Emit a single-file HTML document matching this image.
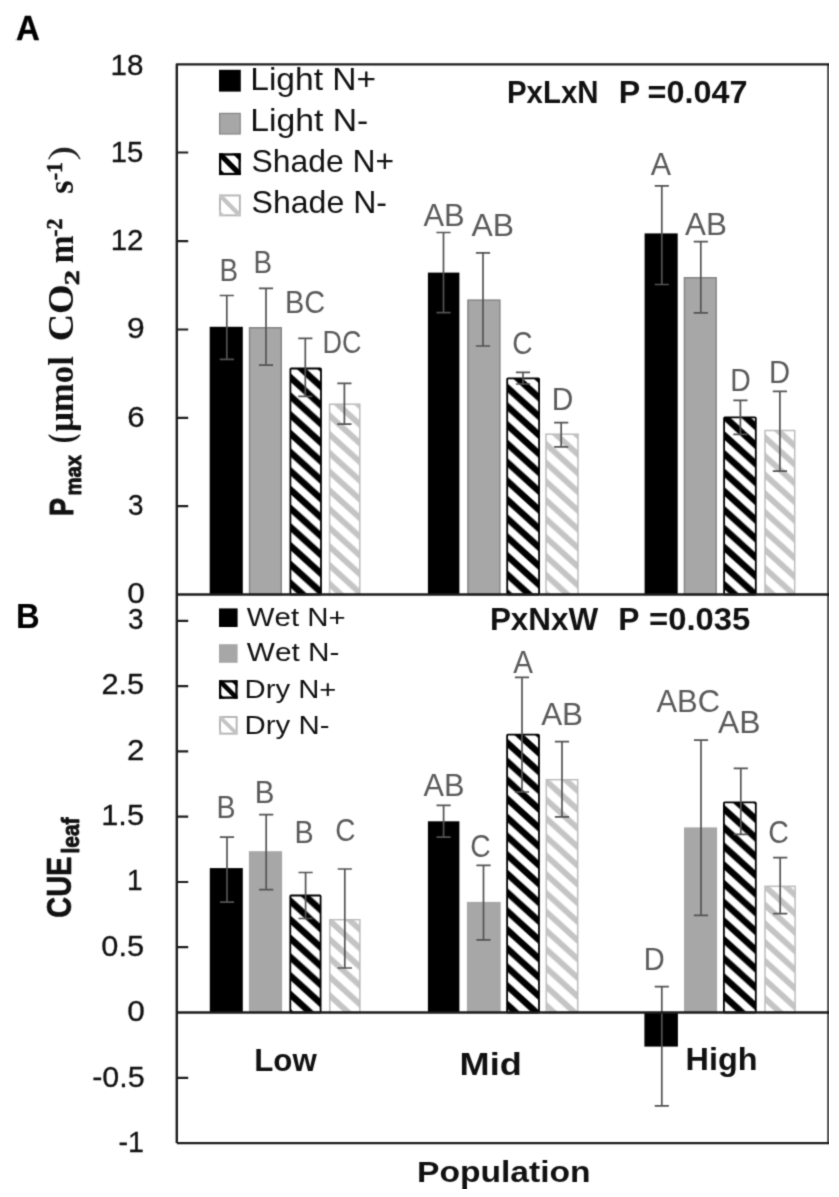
<!DOCTYPE html>
<html><head><meta charset="utf-8"><title>Figure</title><style>html,body{margin:0;padding:0;background:#fff}body{width:839px;height:1197px;overflow:hidden;font-family:"Liberation Sans",sans-serif}</style></head><body>
<svg width="839" height="1197" viewBox="0 0 839 1197" style="display:block;font-kerning:none">
<defs><pattern id="hb" patternUnits="userSpaceOnUse" x="0" y="0" width="20.5721" height="18.7"><rect width="21.572" height="19.7" fill="#fff"/><polygon points="-1,-41.409 21.572,-20.891 21.572,-12.091 -1,-32.609" fill="#000"/><polygon points="-1,-22.709 21.572,-2.191 21.572,6.609 -1,-13.909" fill="#000"/><polygon points="-1,-4.009 21.572,16.509 21.572,25.309 -1,4.791" fill="#000"/><polygon points="-1,14.691 21.572,35.209 21.572,44.009 -1,23.491" fill="#000"/></pattern><pattern id="hg" patternUnits="userSpaceOnUse" x="0" y="0" width="20.5721" height="18.7"><rect width="21.572" height="19.7" fill="#fff"/><polygon points="-1,-38.409 21.572,-17.891 21.572,-9.891 -1,-30.409" fill="#c4c4c4"/><polygon points="-1,-19.709 21.572,0.809 21.572,8.809 -1,-11.709" fill="#c4c4c4"/><polygon points="-1,-1.009 21.572,19.509 21.572,27.509 -1,6.991" fill="#c4c4c4"/><polygon points="-1,17.691 21.572,38.209 21.572,46.209 -1,25.691" fill="#c4c4c4"/></pattern><filter id="bl" x="0" y="0" width="100%" height="100%" color-interpolation-filters="sRGB"><feConvolveMatrix order="3" kernelMatrix="0.02630 0.10957 0.02630 0.10957 0.45654 0.10957 0.02630 0.10957 0.02630" edgeMode="duplicate" preserveAlpha="false"/></filter></defs>
<rect width="839" height="1197" fill="#fff"/>
<g filter="url(#bl)">
<rect x="209.70" y="326.80" width="33.10" height="267.70" fill="#000"/>
<rect x="249.55" y="327.75" width="31.70" height="266.75" fill="#a7a7a7" stroke="#858585" stroke-width="1.5"/>
<rect x="290.40" y="368.50" width="30.60" height="226.00" rx="0.8" fill="url(#hb)" stroke="#000" stroke-width="1.8"/>
<rect x="329.60" y="404.20" width="30.20" height="190.30" fill="url(#hg)" stroke="#bdbdbd" stroke-width="1.5"/>
<rect x="427.90" y="272.60" width="31.50" height="321.90" fill="#000"/>
<rect x="467.95" y="300.15" width="31.90" height="294.35" fill="#a7a7a7" stroke="#858585" stroke-width="1.5"/>
<rect x="507.20" y="378.30" width="31.90" height="216.20" rx="0.8" fill="url(#hb)" stroke="#000" stroke-width="1.8"/>
<rect x="546.00" y="434.20" width="32.00" height="160.30" fill="url(#hg)" stroke="#bdbdbd" stroke-width="1.5"/>
<rect x="644.60" y="233.40" width="33.10" height="361.10" fill="#000"/>
<rect x="684.45" y="277.75" width="31.70" height="316.75" fill="#a7a7a7" stroke="#858585" stroke-width="1.5"/>
<rect x="724.10" y="417.40" width="31.70" height="177.10" rx="0.8" fill="url(#hb)" stroke="#000" stroke-width="1.8"/>
<rect x="765.00" y="430.50" width="29.70" height="164.00" fill="url(#hg)" stroke="#bdbdbd" stroke-width="1.5"/>
<path d="M226.80,295.50V359.40M219.70,295.50h14.2M219.70,359.40h14.2" stroke="#535353" stroke-width="1.7" fill="none"/>
<path d="M266.00,288.30V365.20M258.90,288.30h14.2M258.90,365.20h14.2" stroke="#535353" stroke-width="1.7" fill="none"/>
<path d="M305.30,338.40V396.30M298.20,338.40h14.2M298.20,396.30h14.2" stroke="#535353" stroke-width="1.7" fill="none"/>
<path d="M344.40,383.40V424.20M337.30,383.40h14.2M337.30,424.20h14.2" stroke="#535353" stroke-width="1.7" fill="none"/>
<path d="M443.50,232.50V312.70M436.40,232.50h14.2M436.40,312.70h14.2" stroke="#535353" stroke-width="1.7" fill="none"/>
<path d="M483.00,252.90V346.00M475.90,252.90h14.2M475.90,346.00h14.2" stroke="#535353" stroke-width="1.7" fill="none"/>
<path d="M523.00,372.30V384.00M515.90,372.30h14.2M515.90,384.00h14.2" stroke="#535353" stroke-width="1.7" fill="none"/>
<path d="M561.20,422.60V446.90M554.10,422.60h14.2M554.10,446.90h14.2" stroke="#535353" stroke-width="1.7" fill="none"/>
<path d="M661.80,185.80V284.50M654.70,185.80h14.2M654.70,284.50h14.2" stroke="#535353" stroke-width="1.7" fill="none"/>
<path d="M700.80,241.60V312.80M693.70,241.60h14.2M693.70,312.80h14.2" stroke="#535353" stroke-width="1.7" fill="none"/>
<path d="M740.40,400.40V434.40M733.30,400.40h14.2M733.30,434.40h14.2" stroke="#535353" stroke-width="1.7" fill="none"/>
<path d="M779.90,391.30V471.20M772.80,391.30h14.2M772.80,471.20h14.2" stroke="#535353" stroke-width="1.7" fill="none"/>
<rect x="209.80" y="868.10" width="33.00" height="144.40" fill="#000"/>
<rect x="248.90" y="851.20" width="33.20" height="161.30" fill="#a7a7a7"/>
<rect x="290.30" y="895.50" width="30.30" height="117.00" rx="0.8" fill="url(#hb)" stroke="#000" stroke-width="1.8"/>
<rect x="329.80" y="919.70" width="30.10" height="92.80" fill="url(#hg)" stroke="#bdbdbd" stroke-width="1.5"/>
<rect x="427.90" y="821.30" width="31.50" height="191.20" fill="#000"/>
<rect x="466.90" y="901.90" width="33.80" height="110.60" fill="#a7a7a7"/>
<rect x="507.10" y="734.70" width="31.90" height="277.80" rx="0.8" fill="url(#hb)" stroke="#000" stroke-width="1.8"/>
<rect x="546.30" y="779.70" width="31.40" height="232.80" fill="url(#hg)" stroke="#bdbdbd" stroke-width="1.5"/>
<rect x="644.40" y="1012.50" width="33.50" height="34.10" fill="#000"/>
<rect x="684.00" y="827.40" width="33.10" height="185.10" fill="#a7a7a7"/>
<rect x="723.90" y="802.40" width="31.90" height="210.10" rx="0.8" fill="url(#hb)" stroke="#000" stroke-width="1.8"/>
<rect x="765.00" y="886.30" width="30.10" height="126.20" fill="url(#hg)" stroke="#bdbdbd" stroke-width="1.5"/>
<path d="M227.00,837.10V902.20M219.90,837.10h14.2M219.90,902.20h14.2" stroke="#535353" stroke-width="1.7" fill="none"/>
<path d="M266.20,814.70V889.60M259.10,814.70h14.2M259.10,889.60h14.2" stroke="#535353" stroke-width="1.7" fill="none"/>
<path d="M305.60,872.50V918.50M298.50,872.50h14.2M298.50,918.50h14.2" stroke="#535353" stroke-width="1.7" fill="none"/>
<path d="M344.80,869.00V968.00M337.70,869.00h14.2M337.70,968.00h14.2" stroke="#535353" stroke-width="1.7" fill="none"/>
<path d="M443.60,805.40V837.10M436.50,805.40h14.2M436.50,837.10h14.2" stroke="#535353" stroke-width="1.7" fill="none"/>
<path d="M483.50,865.30V939.90M476.40,865.30h14.2M476.40,939.90h14.2" stroke="#535353" stroke-width="1.7" fill="none"/>
<path d="M522.00,677.30V792.00M514.90,677.30h14.2M514.90,792.00h14.2" stroke="#535353" stroke-width="1.7" fill="none"/>
<path d="M562.00,741.60V816.90M554.90,741.60h14.2M554.90,816.90h14.2" stroke="#535353" stroke-width="1.7" fill="none"/>
<path d="M661.80,986.60V1105.90M654.70,986.60h14.2M654.70,1105.90h14.2" stroke="#535353" stroke-width="1.7" fill="none"/>
<path d="M701.00,740.20V915.40M693.90,740.20h14.2M693.90,915.40h14.2" stroke="#535353" stroke-width="1.7" fill="none"/>
<path d="M740.80,768.40V834.40M733.70,768.40h14.2M733.70,834.40h14.2" stroke="#535353" stroke-width="1.7" fill="none"/>
<path d="M780.20,857.60V913.60M773.10,857.60h14.2M773.10,913.60h14.2" stroke="#535353" stroke-width="1.7" fill="none"/>
<path d="M176.8,1143.1V64.4H828.5V1143.1H176.8M176.8,594.5H828.5M176.8,1012.5H828.5" fill="none" stroke="#1c1c1c" stroke-width="2.4" stroke-linejoin="round"/>
<path d="M176.8,152.5H188.2M176.8,241.2H188.2M176.8,329.5H188.2M176.8,417.8H188.2M176.8,506.1H188.2M176.8,620.85H188.2M176.8,686.1H188.2M176.8,751.4H188.2M176.8,816.7H188.2M176.8,882.0H188.2M176.8,947.2H188.2M176.8,1077.8H188.2" stroke="#1c1c1c" stroke-width="2.2" fill="none"/>
<text transform="translate(110.49,74.70) scale(1.0006,1)" font-family='"Liberation Sans", sans-serif' font-weight="normal" font-size="29.6" fill="#111"  stroke="#111" stroke-width="0.3" stroke-linejoin="round">18</text>
<text transform="translate(110.72,162.30) scale(0.9889,1)" font-family='"Liberation Sans", sans-serif' font-weight="normal" font-size="29.6" fill="#111"  stroke="#111" stroke-width="0.3" stroke-linejoin="round">15</text>
<text transform="translate(110.70,250.00) scale(0.9972,1)" font-family='"Liberation Sans", sans-serif' font-weight="normal" font-size="29.6" fill="#111"  stroke="#111" stroke-width="0.3" stroke-linejoin="round">12</text>
<text transform="translate(126.96,338.00) scale(1.0751,1)" font-family='"Liberation Sans", sans-serif' font-weight="normal" font-size="29.6" fill="#111"  stroke="#111" stroke-width="0.3" stroke-linejoin="round">9</text>
<text transform="translate(127.17,427.40) scale(1.0543,1)" font-family='"Liberation Sans", sans-serif' font-weight="normal" font-size="29.6" fill="#111"  stroke="#111" stroke-width="0.3" stroke-linejoin="round">6</text>
<text transform="translate(127.89,515.10) scale(0.9406,1)" font-family='"Liberation Sans", sans-serif' font-weight="normal" font-size="29.6" fill="#111"  stroke="#111" stroke-width="0.3" stroke-linejoin="round">3</text>
<text transform="translate(127.32,602.50) scale(1.0672,1)" font-family='"Liberation Sans", sans-serif' font-weight="normal" font-size="29.6" fill="#111"  stroke="#111" stroke-width="0.3" stroke-linejoin="round">0</text>
<text transform="translate(127.99,629.30) scale(0.9406,1)" font-family='"Liberation Sans", sans-serif' font-weight="normal" font-size="29.6" fill="#111"  stroke="#111" stroke-width="0.3" stroke-linejoin="round">3</text>
<text transform="translate(101.41,694.20) scale(1.0360,1)" font-family='"Liberation Sans", sans-serif' font-weight="normal" font-size="29.6" fill="#111"  stroke="#111" stroke-width="0.3" stroke-linejoin="round">2.5</text>
<text transform="translate(126.98,759.60) scale(1.0530,1)" font-family='"Liberation Sans", sans-serif' font-weight="normal" font-size="29.6" fill="#111"  stroke="#111" stroke-width="0.3" stroke-linejoin="round">2</text>
<text transform="translate(101.20,825.20) scale(1.0412,1)" font-family='"Liberation Sans", sans-serif' font-weight="normal" font-size="29.6" fill="#111"  stroke="#111" stroke-width="0.3" stroke-linejoin="round">1.5</text>
<text transform="translate(127.06,890.30) scale(0.9452,1)" font-family='"Liberation Sans", sans-serif' font-weight="normal" font-size="29.6" fill="#111"  stroke="#111" stroke-width="0.3" stroke-linejoin="round">1</text>
<text transform="translate(101.35,955.80) scale(1.0375,1)" font-family='"Liberation Sans", sans-serif' font-weight="normal" font-size="29.6" fill="#111"  stroke="#111" stroke-width="0.3" stroke-linejoin="round">0.5</text>
<text transform="translate(127.22,1021.00) scale(1.0672,1)" font-family='"Liberation Sans", sans-serif' font-weight="normal" font-size="29.6" fill="#111"  stroke="#111" stroke-width="0.3" stroke-linejoin="round">0</text>
<text transform="translate(92.20,1086.60) scale(1.0279,1)" font-family='"Liberation Sans", sans-serif' font-weight="normal" font-size="29.6" fill="#111"  stroke="#111" stroke-width="0.3" stroke-linejoin="round">-0.5</text>
<text transform="translate(118.38,1151.90) scale(0.9678,1)" font-family='"Liberation Sans", sans-serif' font-weight="normal" font-size="29.6" fill="#111"  stroke="#111" stroke-width="0.3" stroke-linejoin="round">-1</text>
<text transform="translate(219.52,281.30) scale(0.8800,1)" font-family='"Liberation Sans", sans-serif' font-weight="normal" font-size="31.6" fill="#5a5a5a" >B</text>
<text transform="translate(253.42,273.10) scale(0.8800,1)" font-family='"Liberation Sans", sans-serif' font-weight="normal" font-size="31.6" fill="#5a5a5a" >B</text>
<text transform="translate(284.93,312.60) scale(0.9152,1)" font-family='"Liberation Sans", sans-serif' font-weight="normal" font-size="31.6" fill="#5a5a5a" >BC</text>
<text transform="translate(322.59,353.40) scale(0.8531,1)" font-family='"Liberation Sans", sans-serif' font-weight="normal" font-size="31.6" fill="#5a5a5a" >DC</text>
<text transform="translate(423.44,226.40) scale(0.9771,1)" font-family='"Liberation Sans", sans-serif' font-weight="normal" font-size="31.6" fill="#5a5a5a" >AB</text>
<text transform="translate(471.44,236.30) scale(1.0093,1)" font-family='"Liberation Sans", sans-serif' font-weight="normal" font-size="31.6" fill="#5a5a5a" >AB</text>
<text transform="translate(512.37,353.60) scale(0.8895,1)" font-family='"Liberation Sans", sans-serif' font-weight="normal" font-size="31.6" fill="#5a5a5a" >C</text>
<text transform="translate(551.85,409.90) scale(0.9457,1)" font-family='"Liberation Sans", sans-serif' font-weight="normal" font-size="31.6" fill="#5a5a5a" >D</text>
<text transform="translate(650.64,175.00) scale(0.9640,1)" font-family='"Liberation Sans", sans-serif' font-weight="normal" font-size="31.6" fill="#5a5a5a" >A</text>
<text transform="translate(684.94,234.60) scale(0.9944,1)" font-family='"Liberation Sans", sans-serif' font-weight="normal" font-size="31.6" fill="#5a5a5a" >AB</text>
<text transform="translate(730.27,391.10) scale(0.8976,1)" font-family='"Liberation Sans", sans-serif' font-weight="normal" font-size="31.6" fill="#5a5a5a" >D</text>
<text transform="translate(769.10,383.30) scale(0.9243,1)" font-family='"Liberation Sans", sans-serif' font-weight="normal" font-size="31.6" fill="#5a5a5a" >D</text>
<text transform="translate(216.46,818.10) scale(0.9038,1)" font-family='"Liberation Sans", sans-serif' font-weight="normal" font-size="31.6" fill="#5a5a5a" >B</text>
<text transform="translate(254.78,802.90) scale(0.9335,1)" font-family='"Liberation Sans", sans-serif' font-weight="normal" font-size="31.6" fill="#5a5a5a" >B</text>
<text transform="translate(294.54,842.70) scale(0.9097,1)" font-family='"Liberation Sans", sans-serif' font-weight="normal" font-size="31.6" fill="#5a5a5a" >B</text>
<text transform="translate(335.18,840.70) scale(0.8845,1)" font-family='"Liberation Sans", sans-serif' font-weight="normal" font-size="31.6" fill="#5a5a5a" >C</text>
<text transform="translate(423.54,795.80) scale(0.9722,1)" font-family='"Liberation Sans", sans-serif' font-weight="normal" font-size="31.6" fill="#5a5a5a" >AB</text>
<text transform="translate(470.26,857.10) scale(0.8944,1)" font-family='"Liberation Sans", sans-serif' font-weight="normal" font-size="31.6" fill="#5a5a5a" >C</text>
<text transform="translate(513.34,673.20) scale(0.9354,1)" font-family='"Liberation Sans", sans-serif' font-weight="normal" font-size="31.6" fill="#5a5a5a" >A</text>
<text transform="translate(541.14,725.30) scale(0.9944,1)" font-family='"Liberation Sans", sans-serif' font-weight="normal" font-size="31.6" fill="#5a5a5a" >AB</text>
<text transform="translate(643.82,969.50) scale(0.9190,1)" font-family='"Liberation Sans", sans-serif' font-weight="normal" font-size="31.6" fill="#5a5a5a" >D</text>
<text transform="translate(656.44,712.10) scale(0.9795,1)" font-family='"Liberation Sans", sans-serif' font-weight="normal" font-size="31.6" fill="#5a5a5a" >ABC</text>
<text transform="translate(717.94,733.00) scale(1.0093,1)" font-family='"Liberation Sans", sans-serif' font-weight="normal" font-size="31.6" fill="#5a5a5a" >AB</text>
<text transform="translate(768.35,843.20) scale(0.9044,1)" font-family='"Liberation Sans", sans-serif' font-weight="normal" font-size="31.6" fill="#5a5a5a" >C</text>
<rect x="219" y="69.8" width="21.8" height="21.8" fill="#000"/>
<rect x="219.6" y="113.39999999999999" width="20.6" height="20.6" fill="#a7a7a7" stroke="#858585" stroke-width="1.2"/>
<rect x="220.15" y="154.45000000000002" width="19.5" height="19.5" fill="#fff" stroke="#000" stroke-width="2.3"/>
<clipPath id="c1"><rect x="219" y="153.3" width="21.8" height="21.8"/></clipPath>
<g clip-path="url(#c1)"><path d="M219,153.3L240.8,175.10000000000002" stroke="#000" stroke-width="5.34"/><path d="M232.08,153.3H240.8V162.02z" fill="#000"/><path d="M219,167.91V175.10000000000002H226.19z" fill="#000"/></g>
<rect x="219.95" y="195.45" width="19.900000000000002" height="19.900000000000002" fill="#fff" stroke="#b4b4b4" stroke-width="1.9"/>
<clipPath id="c2"><rect x="219" y="194.5" width="21.8" height="21.8"/></clipPath>
<g clip-path="url(#c2)"><path d="M219,194.5L240.8,216.3" stroke="#c4c4c4" stroke-width="4.36"/><path d="M240.80,194.5H240.8V194.50z" fill="#c4c4c4"/><path d="M219,209.76V216.3H225.54z" fill="#c4c4c4"/></g>
<text transform="translate(250.25,90.30) scale(1.0754,1)" font-family='"Liberation Sans", sans-serif' font-weight="normal" font-size="31.2" fill="#111" >Light N+</text>
<text transform="translate(250.23,131.00) scale(1.0807,1)" font-family='"Liberation Sans", sans-serif' font-weight="normal" font-size="31.2" fill="#111" >Light N-</text>
<text transform="translate(251.55,172.00) scale(1.0213,1)" font-family='"Liberation Sans", sans-serif' font-weight="normal" font-size="31.2" fill="#111" >Shade N+</text>
<text transform="translate(251.54,213.00) scale(1.0286,1)" font-family='"Liberation Sans", sans-serif' font-weight="normal" font-size="31.2" fill="#111" >Shade N-</text>
<rect x="219" y="608.4" width="18.6" height="18.6" fill="#000"/>
<rect x="219" y="644.2" width="18.6" height="18.6" fill="#a7a7a7"/>
<rect x="220.15" y="681.35" width="16.3" height="16.3" fill="#fff" stroke="#000" stroke-width="2.3"/>
<clipPath id="c3"><rect x="219" y="680.2" width="18.6" height="18.6"/></clipPath>
<g clip-path="url(#c3)"><path d="M219,680.2L237.6,698.8000000000001" stroke="#000" stroke-width="4.56"/><path d="M230.16,680.2H237.6V687.64z" fill="#000"/><path d="M219,692.66V698.8000000000001H225.14z" fill="#000"/></g>
<rect x="219.95" y="716.95" width="16.700000000000003" height="16.700000000000003" fill="#fff" stroke="#b4b4b4" stroke-width="1.9"/>
<clipPath id="c4"><rect x="219" y="716.0" width="18.6" height="18.6"/></clipPath>
<g clip-path="url(#c4)"><path d="M219,716.0L237.6,734.6" stroke="#c4c4c4" stroke-width="3.72"/><path d="M237.60,716.0H237.6V716.00z" fill="#c4c4c4"/><path d="M219,729.02V734.6H224.58z" fill="#c4c4c4"/></g>
<text transform="translate(246.87,625.80) scale(1.1057,1)" font-family='"Liberation Sans", sans-serif' font-weight="normal" font-size="26.6" fill="#111" >Wet N+</text>
<text transform="translate(246.87,661.40) scale(1.1197,1)" font-family='"Liberation Sans", sans-serif' font-weight="normal" font-size="26.6" fill="#111" >Wet N-</text>
<text transform="translate(244.60,697.70) scale(1.0999,1)" font-family='"Liberation Sans", sans-serif' font-weight="normal" font-size="26.6" fill="#111" >Dry N+</text>
<text transform="translate(244.59,734.00) scale(1.1053,1)" font-family='"Liberation Sans", sans-serif' font-weight="normal" font-size="26.6" fill="#111" >Dry N-</text>
<text transform="translate(506.93,102.90) scale(0.9624,1)" font-family='"Liberation Sans", sans-serif' font-weight="bold" font-size="30.6" fill="#111" >PxLxN</text>
<text transform="translate(618.85,102.90) scale(1.0510,1)" font-family='"Liberation Sans", sans-serif' font-weight="bold" font-size="30.6" fill="#111" >P</text>
<text transform="translate(647.55,102.90) scale(1.0596,1)" font-family='"Liberation Sans", sans-serif' font-weight="bold" font-size="30.6" fill="#111" >=0.047</text>
<text transform="translate(489.89,630.10) scale(1.0219,1)" font-family='"Liberation Sans", sans-serif' font-weight="bold" font-size="30.8" fill="#111" >PxNxW</text>
<text transform="translate(618.27,630.10) scale(1.0327,1)" font-family='"Liberation Sans", sans-serif' font-weight="bold" font-size="30.8" fill="#111" >P</text>
<text transform="translate(649.04,630.10) scale(1.0664,1)" font-family='"Liberation Sans", sans-serif' font-weight="bold" font-size="30.8" fill="#111" >=0.035</text>
<text transform="translate(254.21,1071.00) scale(0.9928,1)" font-family='"Liberation Sans", sans-serif' font-weight="bold" font-size="31.5" fill="#111" >Low</text>
<text transform="translate(459.58,1074.80) scale(1.1654,1)" font-family='"Liberation Sans", sans-serif' font-weight="bold" font-size="31" fill="#111" >Mid</text>
<text transform="translate(685.53,1070.00) scale(1.0451,1)" font-family='"Liberation Sans", sans-serif' font-weight="bold" font-size="31" fill="#111" >High</text>
<text transform="translate(416.95,1181.80) scale(1.1210,1)" font-family='"Liberation Sans", sans-serif' font-weight="bold" font-size="30" fill="#111" >Population</text>
<text transform="translate(15.88,40.40) scale(0.9332,1)" font-family='"Liberation Sans", sans-serif' font-weight="bold" font-size="35.3" fill="#000"  stroke="#000" stroke-width="0.4" stroke-linejoin="round">A</text>
<text transform="translate(15.91,627.70) scale(0.9290,1)" font-family='"Liberation Sans", sans-serif' font-weight="bold" font-size="35.3" fill="#000" >B</text>
<text transform="translate(72.60,515.91) rotate(-90) scale(0.7952,1)" font-family='"Liberation Sans", sans-serif' font-weight="bold" font-size="34.0" fill="#111" stroke="#111" stroke-width="1.0" stroke-linejoin="round">P</text>
<text transform="translate(80.70,495.48) rotate(-90) scale(0.9194,1)" font-family='"Liberation Sans", sans-serif' font-weight="bold" font-size="22.0" fill="#111" stroke="#111" stroke-width="0.9" stroke-linejoin="round">max</text>
<text transform="translate(73.20,443.15) rotate(-90) scale(0.8006,1)" font-family='"Liberation Serif", serif' font-weight="bold" font-size="35.5" fill="#111">(</text>
<text transform="translate(73.20,431.84) rotate(-90) scale(0.9783,1)" font-family='"Liberation Serif", serif' font-weight="bold" font-size="35.5" fill="#111">μmol</text>
<text transform="translate(73.20,341.36) rotate(-90) scale(1.0706,1)" font-family='"Liberation Serif", serif' font-weight="bold" font-size="35.5" fill="#111">CO</text>
<text transform="translate(79.00,285.27) rotate(-90) scale(1.3926,1)" font-family='"Liberation Serif", serif' font-weight="bold" font-size="21.8" fill="#111" stroke="#111" stroke-width="0.6" stroke-linejoin="round">2</text>
<text transform="translate(73.20,263.51) rotate(-90) scale(0.9496,1)" font-family='"Liberation Serif", serif' font-weight="bold" font-size="35.5" fill="#111">m</text>
<text transform="translate(61.90,236.75) rotate(-90) scale(0.9464,1)" font-family='"Liberation Serif", serif' font-weight="bold" font-size="23" fill="#111" stroke="#111" stroke-width="0.5" stroke-linejoin="round">-2</text>
<text transform="translate(73.20,193.63) rotate(-90) scale(0.9601,1)" font-family='"Liberation Serif", serif' font-weight="bold" font-size="35.5" fill="#111">s</text>
<text transform="translate(61.90,180.14) rotate(-90) scale(0.9401,1)" font-family='"Liberation Serif", serif' font-weight="bold" font-size="23" fill="#111" stroke="#111" stroke-width="0.5" stroke-linejoin="round">-1</text>
<text transform="translate(72.60,160.74) rotate(-90) scale(1.2267,1)" font-family='"Liberation Serif", serif' font-weight="normal" font-size="36.5" fill="#222">)</text>
<text transform="translate(71.20,917.69) rotate(-90) scale(0.8366,1)" font-family='"Liberation Sans", sans-serif' font-weight="bold" font-size="34.6" fill="#111" stroke="#111" stroke-width="0.6" stroke-linejoin="round">CUE</text>
<text transform="translate(78.70,853.51) rotate(-90) scale(0.8933,1)" font-family='"Liberation Sans", sans-serif' font-weight="bold" font-size="23.4" fill="#111" stroke="#111" stroke-width="0.9" stroke-linejoin="round">leaf</text>
</g>
</svg>
</body></html>
